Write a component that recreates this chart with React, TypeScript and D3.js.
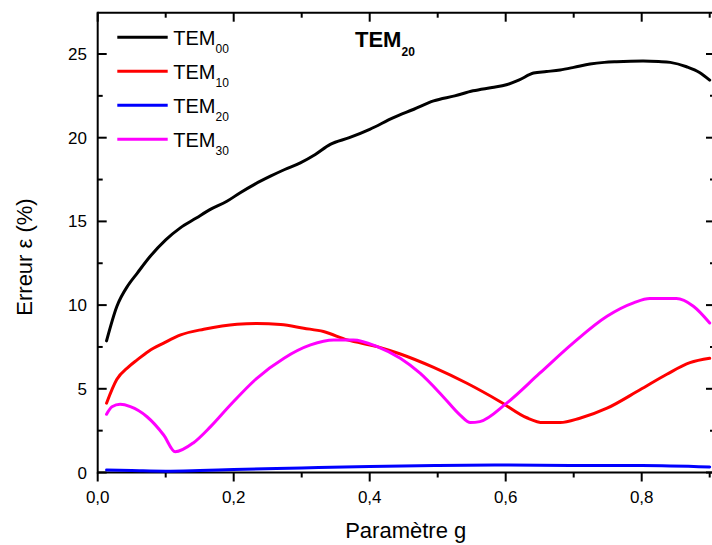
import React from "react";
import * as d3 from "d3";

const xTicks = [0, 0.2, 0.4, 0.6, 0.8];
const xTickLabels = ["0,0", "0,2", "0,4", "0,6", "0,8"];
const xMinor = [0.1, 0.3, 0.5, 0.7, 0.9];
const yTicks = [0, 5, 10, 15, 20, 25];
const yMinor = [2.5, 7.5, 12.5, 17.5, 22.5];

const blackX = [0.013,0.028,0.045,0.058,0.077,0.1,0.121,0.145,0.165,0.19,0.209,0.23,0.254,0.275,0.298,0.32,0.342,0.37,0.4,0.435,0.465,0.494,0.525,0.552,0.58,0.601,0.62,0.641,0.66,0.68,0.7,0.724,0.745,0.763,0.802,0.825,0.842,0.866,0.885,0.9];
const blackY = [7.86,9.9,11.2,11.9,12.9,13.9,14.6,15.2,15.7,16.2,16.7,17.2,17.7,18.1,18.5,19.0,19.6,20.0,20.5,21.2,21.7,22.2,22.5,22.8,23.0,23.16,23.45,23.86,23.95,24.05,24.2,24.4,24.5,24.54,24.58,24.55,24.5,24.24,23.9,23.44];

const redX = [0.013,0.028,0.045,0.058,0.075,0.097,0.122,0.156,0.205,0.234,0.269,0.303,0.332,0.367,0.411,0.445,0.494,0.543,0.592,0.631,0.655,0.68,0.709,0.749,0.797,0.837,0.871,0.9];
const redY = [4.14,5.55,6.3,6.73,7.25,7.73,8.22,8.56,8.86,8.9,8.84,8.62,8.42,7.92,7.52,7.08,6.28,5.33,4.23,3.27,2.98,2.98,3.24,3.84,4.93,5.87,6.56,6.82];

const blueX = [0.013,0.05,0.1,0.15,0.2,0.3,0.4,0.5,0.6,0.7,0.8,0.9];
const blueY = [0.15,0.12,0.08,0.12,0.18,0.27,0.36,0.42,0.45,0.42,0.42,0.33];

const magentaX = [0.013,0.021,0.033,0.048,0.0725,0.097,0.114,0.141,0.166,0.195,0.234,0.274,0.313,0.347,0.376,0.411,0.445,0.474,0.508,0.533,0.548,0.562,0.601,0.65,0.699,0.749,0.788,0.812,0.851,0.876,0.9];
const magentaY = [3.48,3.93,4.07,3.93,3.33,2.24,1.24,1.78,2.74,4.03,5.63,6.83,7.62,7.92,7.92,7.52,6.82,5.93,4.53,3.43,2.98,3.04,4.13,5.93,7.73,9.33,10.13,10.39,10.39,9.93,8.93];

const seriesNames = ["00", "10", "20", "30"];
const seriesColors = ["#000000", "#ff0000", "#0000ff", "#ff00ff"];

const W = 712, H = 545;
const left = 97.7, right = 709.7, top = 12.7, bottom = 472.5;

export default function App() {
  const x = d3.scaleLinear().domain([0, 0.9]).range([left, right]);
  const y = d3.scaleLinear().domain([0, 25]).range([bottom, bottom - 25 * 16.74]);
  const line = d3.line<[number, number]>().x(d => x(d[0])).y(d => y(d[1])).curve(d3.curveMonotoneX);
  const series = [
    [blackX, blackY],
    [redX, redY],
    [blueX, blueY],
    [magentaX, magentaY],
  ].map(([xs, ys]) => xs.map((v, i) => [v, ys[i]] as [number, number]));
  const font = "'Liberation Sans', Arial, sans-serif";
  const rightSpine = 715;
  return (
    <div style={{ position: "absolute", left: 0, top: 0 }}>
      <svg width={W} height={H} style={{ display: "block", background: "#fff" }} fontFamily={font}>
        {/* spines */}
        <line x1={left} x2={W + 5} y1={top} y2={top} stroke="#000" strokeWidth={2} />
        <line x1={left} x2={W + 5} y1={bottom} y2={bottom} stroke="#000" strokeWidth={2} />
        <line x1={left} x2={left} y1={top - 1} y2={bottom + 1} stroke="#000" strokeWidth={2} />
        {/* x ticks */}
        {xTicks.map((t, i) => (
          <g key={"xt" + i}>
            <line x1={x(t)} x2={x(t)} y1={bottom} y2={bottom + 9} stroke="#000" strokeWidth={2} />
            <line x1={x(t)} x2={x(t)} y1={top} y2={top + 9} stroke="#000" strokeWidth={2} />
            <text x={x(t)} y={502.5} fontSize={17} textAnchor="middle">{xTickLabels[i]}</text>
          </g>
        ))}
        {xMinor.map((t, i) => (
          <g key={"xm" + i}>
            <line x1={x(t)} x2={x(t)} y1={bottom} y2={bottom + 5} stroke="#000" strokeWidth={2} />
            <line x1={x(t)} x2={x(t)} y1={top} y2={top + 5} stroke="#000" strokeWidth={2} />
          </g>
        ))}
        {/* y ticks */}
        {yTicks.map((t, i) => (
          <g key={"yt" + i}>
            <line x1={left} x2={left + 9} y1={y(t)} y2={y(t)} stroke="#000" strokeWidth={2} />
            <line x1={rightSpine} x2={rightSpine - 9} y1={y(t)} y2={y(t)} stroke="#000" strokeWidth={2} />
            <text x={87} y={y(t) + 6} fontSize={17} textAnchor="end">{String(t)}</text>
          </g>
        ))}
        {yMinor.map((t, i) => (
          <g key={"ym" + i}>
            <line x1={left} x2={left + 5} y1={y(t)} y2={y(t)} stroke="#000" strokeWidth={2} />
            <line x1={rightSpine} x2={rightSpine - 5} y1={y(t)} y2={y(t)} stroke="#000" strokeWidth={2} />
          </g>
        ))}
        {/* curves */}
        {series.map((pts, i) => (
          <path key={"s" + i} d={line(pts) || ""} fill="none" stroke={seriesColors[i]} strokeWidth={3} strokeLinejoin="round" strokeLinecap="round" />
        ))}
        {/* legend */}
        {seriesNames.map((n, i) => (
          <g key={"lg" + i}>
            <line x1={117.3} x2={167.7} y1={37.3 + i * 34} y2={37.3 + i * 34} stroke={seriesColors[i]} strokeWidth={3} />
            <text x={173.3} y={45 + i * 34} fontSize={20}>
              TEM<tspan fontSize={12} dy={8}>{n}</tspan>
            </text>
          </g>
        ))}
        {/* title */}
        <text x={355} y={46.7} fontSize={22} fontWeight="bold">
          TEM<tspan fontSize={12} dy={9}>20</tspan>
        </text>
        {/* axis titles */}
        <text x={(left + right) / 2 + 2} y={538} fontSize={22} textAnchor="middle">Paramètre g</text>
        <text transform={`translate(32,257) rotate(-90)`} fontSize={22} textAnchor="middle">Erreur ε (%)</text>
      </svg>
    </div>
  );
}
